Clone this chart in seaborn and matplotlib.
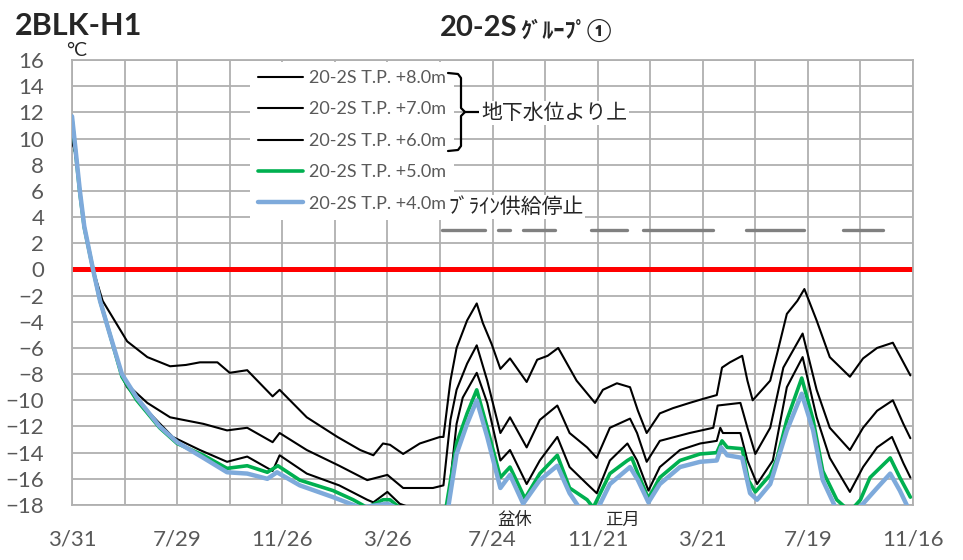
import pandas as pd
import seaborn as sns
import matplotlib.pyplot as plt
from matplotlib.lines import Line2D

# Chart range
START = pd.Timestamp("2016-03-31")
END = pd.Timestamp("2018-11-16")

# Temperatures: day offset from START, value in deg C
days_8m = [0, 4, 9, 14, 24, 35, 63, 86, 112, 130, 146, 166, 180, 200, 229, 237, 268, 303, 329, 344,
           355, 363, 378, 397, 420, 424, 432, 439, 451, 462, 469, 479, 489, 500, 519, 531, 543, 555,
           576, 597, 606, 622, 637, 646, 656, 671, 686, 705, 720, 736, 742, 751, 765, 771, 777, 797,
           805, 816, 828, 836, 850, 865, 888, 903, 919, 937, 957]
temp_8m = [10.0, 8.8, 5.8, 3.2, 0.0, -2.4, -5.5, -6.7, -7.4, -7.3, -7.1, -7.1, -7.9, -7.7, -9.7,
           -9.2, -11.3, -12.8, -13.8, -14.2, -13.3, -13.4, -14.1, -13.3, -12.8, -12.8, -8.5, -6.0,
           -3.9, -2.6, -4.1, -5.7, -7.6, -6.8, -8.6, -6.9, -6.6, -6.0, -8.5, -10.2, -9.2, -8.7, -9.0,
           -10.8, -12.5, -11.0, -10.6, -10.2, -9.9, -9.6, -7.5, -7.1, -6.6, -8.5, -10.0, -8.5, -6.4,
           -3.4, -2.4, -1.5, -3.9, -6.7, -8.2, -6.8, -6.0, -5.6, -8.1]

days_7m = [0, 4, 9, 14, 24, 35, 45, 55, 63, 86, 112, 150, 177, 200, 229, 237, 268, 305, 337, 360,
           378, 412, 424, 432, 439, 451, 462, 474, 489, 500, 519, 534, 554, 568, 588, 599, 614, 637,
           645, 656, 671, 705, 732, 737, 763, 771, 780, 797, 812, 834, 850, 865, 888, 903, 919, 937,
           949, 957]
temp_7m = [10.0, 8.8, 5.8, 3.2, 0.0, -3.0, -5.5, -7.6, -8.8, -10.2, -11.3, -11.8, -12.3, -12.1,
           -13.2, -12.5, -13.8, -15.0, -16.1, -15.7, -16.7, -16.7, -16.5, -11.5, -9.2, -7.2, -5.8,
           -8.5, -12.5, -11.3, -13.6, -11.5, -10.4, -12.5, -13.6, -14.4, -12.1, -11.4, -12.5, -14.7,
           -13.1, -12.5, -12.1, -10.4, -10.2, -12.1, -14.1, -12.1, -7.5, -4.9, -9.2, -12.1, -13.8,
           -12.1, -10.8, -10.0, -11.8, -12.9]

days_6m = [0, 4, 9, 14, 24, 33, 43, 57, 63, 89, 115, 146, 177, 200, 229, 237, 268, 305, 337, 344,
           360, 374, 394, 420, 428, 439, 446, 462, 474, 489, 500, 519, 534, 554, 568, 588, 599, 614,
           634, 645, 658, 671, 694, 717, 736, 740, 743, 763, 771, 782, 800, 816, 834, 850, 865, 888,
           903, 919, 936, 949, 957]
temp_6m = [10.0, 8.8, 5.8, 3.2, 0.0, -2.6, -5.0, -8.2, -9.0, -11.0, -12.8, -13.8, -14.7, -14.3,
           -15.4, -14.2, -15.6, -16.5, -17.6, -17.8, -17.0, -17.9, -18.4, -18.6, -18.5, -11.8, -9.8,
           -7.9, -10.2, -14.6, -13.8, -16.4, -14.6, -12.8, -15.1, -16.4, -17.1, -14.6, -13.3, -14.6,
           -16.9, -15.1, -13.8, -13.3, -13.1, -12.1, -12.5, -12.5, -14.6, -16.4, -14.6, -9.0, -6.7,
           -11.3, -14.4, -17.0, -15.1, -13.6, -12.8, -14.8, -15.9]

days_5m = [0, 4, 9, 14, 24, 32, 43, 57, 74, 100, 120, 150, 177, 200, 223, 235, 260, 298, 321, 337,
           355, 363, 374, 400, 426, 439, 451, 462, 474, 489, 500, 517, 534, 554, 568, 588, 595, 603,
           614, 634, 639, 646, 658, 671, 694, 717, 736, 742, 748, 765, 772, 780, 797, 805, 816, 833,
           846, 857, 873, 888, 900, 911, 934, 945, 957]
temp_5m = [11.5, 9.0, 5.8, 3.2, 0.0, -2.4, -4.9, -8.2, -10.0, -12.1, -13.3, -14.2, -15.2, -15.0,
           -15.5, -15.0, -16.1, -16.9, -17.6, -18.2, -17.6, -17.6, -18.2, -18.6, -18.6, -13.3, -11.0,
           -9.2, -12.1, -15.9, -15.1, -17.5, -15.6, -14.2, -16.7, -17.6, -18.2, -17.1, -15.6, -14.6,
           -14.4, -15.6, -17.5, -15.9, -14.6, -14.1, -14.0, -13.1, -13.6, -13.7, -16.1, -17.0, -15.7,
           -14.4, -11.5, -8.3, -11.5, -15.4, -17.6, -18.5, -17.6, -15.9, -14.4, -15.9, -17.4]

days_4m = [0, 4, 9, 14, 24, 32, 43, 57, 74, 100, 120, 150, 177, 200, 223, 234, 260, 298, 329, 360,
           380, 428, 439, 451, 462, 474, 489, 500, 515, 534, 554, 568, 580, 600, 614, 637, 646, 658,
           671, 694, 717, 736, 741, 748, 765, 774, 782, 797, 816, 833, 846, 857, 873, 895, 903, 919,
           934, 945, 955]
temp_4m = [11.7, 9.2, 6.0, 3.3, 0.0, -2.4, -4.9, -8.0, -9.8, -12.0, -13.2, -14.4, -15.5, -15.6,
           -16.0, -15.5, -16.5, -17.4, -18.2, -17.9, -18.5, -18.8, -14.1, -11.8, -10.0, -12.8, -16.7,
           -15.7, -17.9, -16.1, -15.0, -17.1, -18.3, -18.3, -16.4, -15.1, -16.1, -17.8, -16.4, -15.1,
           -14.7, -14.6, -13.6, -14.2, -14.4, -17.1, -17.6, -16.4, -12.3, -9.5, -12.3, -16.1, -18.4,
           -18.4, -17.9, -16.7, -15.6, -16.9, -18.3]

# Periods with brine supply stopped (day offsets)
brine_stop_start = [422, 486, 515, 592, 652, 769, 880]
brine_stop_end = [471, 500, 551, 633, 732, 836, 926]

series_labels = ["20-2S T.P. +8.0m", "20-2S T.P. +7.0m", "20-2S T.P. +6.0m",
                 "20-2S T.P. +5.0m", "20-2S T.P. +4.0m"]
series_colors = ["black", "black", "black", "#00B050", "#7EAADB"]
series_widths = [1.5, 1.5, 1.5, 2.6, 3.2]

TICK_GRAY = "#595959"
GRID_GRAY = "#B0B0B0"
W, H = 963, 560


def to_dates(days):
    return START + pd.to_timedelta(days, unit="D")


def fx(px):
    return px / W


def fy(py):
    return 1 - py / H


def main():
    sns.set_theme(style="whitegrid")
    plt.rcParams["font.family"] = ["Lato", "Noto Sans CJK JP", "DejaVu Sans"]

    fig = plt.figure(figsize=(W / 100, H / 100), dpi=100)
    ax = fig.add_axes([fx(72), 1 - 505 / H, 841 / W, 445 / H])
    ax.set_facecolor("white")

    all_days = [days_8m, days_7m, days_6m, days_5m, days_4m]
    all_temps = [temp_8m, temp_7m, temp_6m, temp_5m, temp_4m]
    for days, temps, color, lw in zip(all_days, all_temps, series_colors, series_widths):
        df = pd.DataFrame({"date": to_dates(days), "temp": temps})
        sns.lineplot(data=df, x="date", y="temp", ax=ax, color=color,
                     linewidth=lw, legend=False, zorder=3)

    # zero line and brine stop periods
    ax.axhline(0, color="#FF0000", lw=3.6, zorder=2)
    ax.hlines([3] * len(brine_stop_start), to_dates(brine_stop_start), to_dates(brine_stop_end),
              color="#808080", lw=2.4, capstyle="round", zorder=2)

    # axes
    tick_dates = pd.date_range(START, END, freq="120D")
    grid_dates = pd.date_range(START, END, freq="60D")
    ax.set_xlim(START, END)
    ax.set_xticks(tick_dates)
    ax.set_xticklabels([f"{d.month}/{d.day}" for d in tick_dates])
    ax.set_xticks(grid_dates, minor=True)
    ax.set_ylim(-18, 16)
    ax.set_yticks(range(-18, 17, 2))
    ax.set_xlabel("")
    ax.set_ylabel("")
    ax.grid(which="both", axis="x", color=GRID_GRAY, lw=1.3)
    ax.grid(which="major", axis="y", color=GRID_GRAY, lw=1.3)
    ax.tick_params(axis="both", which="both", length=0, labelsize=16, labelcolor=TICK_GRAY)
    ax.tick_params(axis="y", pad=20)
    ax.tick_params(axis="x", pad=18)
    for sp in ax.spines.values():
        sp.set_color(GRID_GRAY)
        sp.set_linewidth(1.3)

    # legend
    handles = [Line2D([], [], color=c, lw=w) for c, w in zip(series_colors, series_widths)]
    leg = fig.legend(handles, series_labels, loc="upper left",
                     bbox_to_anchor=(fx(250), fy(62)), bbox_transform=fig.transFigure,
                     fontsize=13, frameon=True, facecolor="white", edgecolor="none",
                     framealpha=1, borderpad=0.45, borderaxespad=0, handlelength=2.5,
                     handletextpad=0.3, labelspacing=0.85, fancybox=False)
    for t in leg.get_texts():
        t.set_color(TICK_GRAY)

    # brace for the upper three sensors
    brace_top = [(448, 73), (458, 74), (461, 78), (461, 108), (465, 112), (480, 112)]
    brace_bot = [(465, 112), (461, 116), (461, 146), (458, 150), (448, 151)]
    for pts in (brace_top, brace_bot):
        fig.add_artist(Line2D([fx(p[0]) for p in pts], [fy(p[1]) for p in pts],
                              color="black", lw=1.6, transform=fig.transFigure, zorder=6))

    box = dict(boxstyle="square,pad=0.1", facecolor="white", edgecolor="none")
    fig.text(fx(481), fy(113), "地下水位より上", fontsize=15, va="center", ha="left",
             bbox=box, zorder=6)
    fig.text(fx(448), fy(207), "ﾌﾞﾗｲﾝ供給停止", fontsize=15, va="center", ha="left",
             bbox=box, zorder=6)

    # holiday notes under the axis
    fig.text(fx(515), fy(520), "盆休", fontsize=12.5, ha="center", va="center")
    fig.text(fx(622), fy(520), "正月", fontsize=12.5, ha="center", va="center")

    # titles
    fig.text(fx(15), fy(26), "2BLK-H1", fontsize=22, fontweight="bold", va="center", ha="left")
    fig.text(fx(440), fy(28), "20-2S", fontsize=21, fontweight="bold", va="center", ha="left")
    fig.text(fx(520), fy(30), "ｸﾞﾙｰﾌﾟ①", fontsize=16, fontweight="bold", va="center", ha="left")
    fig.text(fx(66), fy(51), "°C", fontsize=14, va="center", ha="left")

    fig.savefig("out.png", dpi=100)
    plt.close(fig)


if __name__ == "__main__":
    main()
